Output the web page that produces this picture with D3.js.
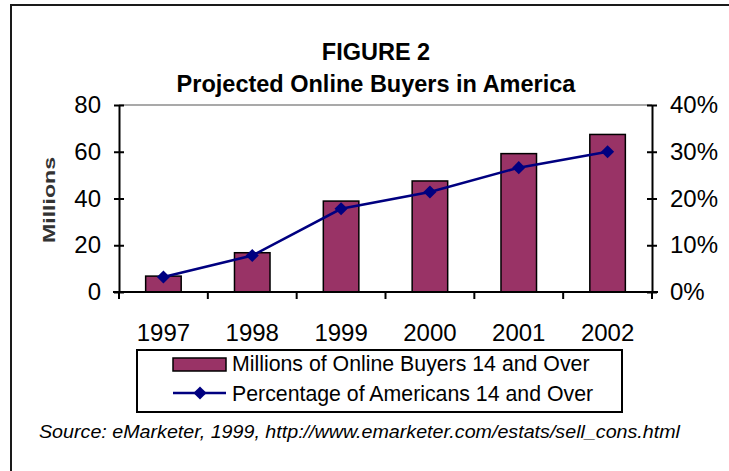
<!DOCTYPE html>
<html><head><meta charset="utf-8">
<script src="https://cdn.jsdelivr.net/npm/d3@7"></script>
<style>
html,body{margin:0;padding:0;background:#fff;}
svg{display:block;font-family:Arial,"Liberation Sans",sans-serif;}
</style></head>
<body>
<script>
const years = ["1997","1998","1999","2000","2001","2002"];
const buyersMillions = [6.8, 16.8, 38.9, 47.5, 59.2, 67.4];
const percentAmericans = [3.2, 7.8, 17.8, 21.4, 26.6, 30.0];
const leftTicks = [0, 20, 40, 60, 80];
const rightTicks = [0, 10, 20, 30, 40];
const titleLines = ["FIGURE 2", "Projected Online Buyers in America"];
const legendLabels = ["Millions of Online Buyers 14 and Over", "Percentage of Americans 14 and Over"];
const yLabel = "Millions";
const sourceText = "Source: eMarketer, 1999, http://www.emarketer.com/estats/sell_cons.html";

const W = 729, H = 471;
const svg = d3.select("body").append("svg").attr("width", W).attr("height", H);

// outer frame (only top & left visible)
svg.append("path").attr("d", `M11,${H} L11,5 L${W},5`).attr("fill","none").attr("stroke","#1a1a1a").attr("stroke-width",2);

const L = 119, R = 652, T = 105, B = 292;
const x = d3.scaleBand().domain(years).range([L, R]).paddingInner(0).paddingOuter(0);
const yL = d3.scaleLinear().domain([0, 80]).range([B, T]);
const yR = d3.scaleLinear().domain([0, 40]).range([B, T]);

// title
svg.selectAll(".title").data(titleLines).enter().append("text")
  .attr("x", 376).attr("y", (d,i) => 60 + i*32)
  .attr("text-anchor","middle").attr("font-weight","bold").attr("font-size", 23.5)
  .attr("fill","#000").text(d => d);

// top gridline
svg.append("line").attr("x1", L).attr("x2", R).attr("y1", yL(80)).attr("y2", yL(80))
  .attr("stroke","#8c8c8c").attr("stroke-width",1.5);

// bars
const bw = x.bandwidth()*0.4;
svg.selectAll(".bar").data(years).enter().append("rect")
  .attr("x", d => x(d) + x.bandwidth()/2 - bw/2)
  .attr("y", (d,i) => yL(buyersMillions[i]))
  .attr("width", bw)
  .attr("height", (d,i) => yL(0) - yL(buyersMillions[i]))
  .attr("fill","#993366").attr("stroke","#000").attr("stroke-width",1.5);

// axes
const axL = d3.axisLeft(yL).tickValues(leftTicks).tickSizeInner(0).tickSizeOuter(0).tickPadding(18);
const gL = svg.append("g").attr("transform",`translate(${L},0)`).call(axL);
const axR = d3.axisRight(yR).tickValues(rightTicks).tickFormat(d => d + "%").tickSizeInner(0).tickSizeOuter(0).tickPadding(18);
const gR = svg.append("g").attr("transform",`translate(${R},0)`).call(axR);
[gL, gR].forEach(g => {
  g.select(".domain").attr("stroke","#000").attr("stroke-width",2);
  g.selectAll(".tick text").attr("font-size",24).attr("fill","#000").attr("font-family","Arial, 'Liberation Sans', sans-serif");
  g.selectAll(".tick").append("line").attr("x1",-5).attr("x2",5).attr("stroke","#000").attr("stroke-width",2);
});

const axB = d3.axisBottom(x).tickSize(0).tickPadding(32);
const gB = svg.append("g").attr("transform",`translate(0,${B})`).call(axB);
gB.select(".domain").remove();
gB.append("line").attr("x1", L-6).attr("x2", R+6).attr("stroke","#000").attr("stroke-width",2);
gB.selectAll(".tick text").attr("font-size",24).attr("fill","#000").attr("font-family","Arial, 'Liberation Sans', sans-serif");
const edges = years.map(d => x(d)).concat([R]);
gB.selectAll(".sep").data(edges).enter().append("line")
  .attr("x1", d => d).attr("x2", d => d).attr("y1", 0).attr("y2", 7)
  .attr("stroke","#000").attr("stroke-width",2);

// y label
svg.append("text").attr("transform","translate(55,200) rotate(-90)")
  .attr("text-anchor","middle").attr("font-weight","bold").attr("font-size",17)
  .attr("textLength",86).attr("lengthAdjust","spacingAndGlyphs")
  .attr("fill","#333").text(yLabel);

// line
const line = d3.line().x((d,i) => x(years[i]) + x.bandwidth()/2).y(d => yR(d));
svg.append("path").datum(percentAmericans).attr("d", line)
  .attr("fill","none").attr("stroke","#000080").attr("stroke-width",2.5);
const diamond = d3.symbol().type(d3.symbolDiamond2).size(110);
svg.selectAll(".pt").data(percentAmericans).enter().append("path")
  .attr("d", diamond)
  .attr("transform", (d,i) => `translate(${x(years[i]) + x.bandwidth()/2},${yR(d)})`)
  .attr("fill","#000080");

// legend
const lg = svg.append("g");
lg.append("rect").attr("x",137).attr("y",350).attr("width",485).attr("height",62)
  .attr("fill","#fff").attr("stroke","#000").attr("stroke-width",2);
lg.append("rect").attr("x",173).attr("y",358).attr("width",53).attr("height",13)
  .attr("fill","#993366").attr("stroke","#000").attr("stroke-width",1.5);
lg.append("line").attr("x1",173).attr("x2",226).attr("y1",393).attr("y2",393)
  .attr("stroke","#000080").attr("stroke-width",2.5);
lg.append("path").attr("d", diamond).attr("transform","translate(200,393)").attr("fill","#000080");
lg.selectAll(".lt").data(legendLabels).enter().append("text")
  .attr("x",232).attr("y",(d,i) => 371 + i*30)
  .attr("font-size",21.3).attr("fill","#000").text(d => d);

// source
svg.append("text").attr("x",39).attr("y",438).attr("font-size",18).attr("font-style","italic")
  .attr("textLength",641).attr("lengthAdjust","spacingAndGlyphs")
  .attr("fill","#000").text(sourceText);
</script>
</body></html>
